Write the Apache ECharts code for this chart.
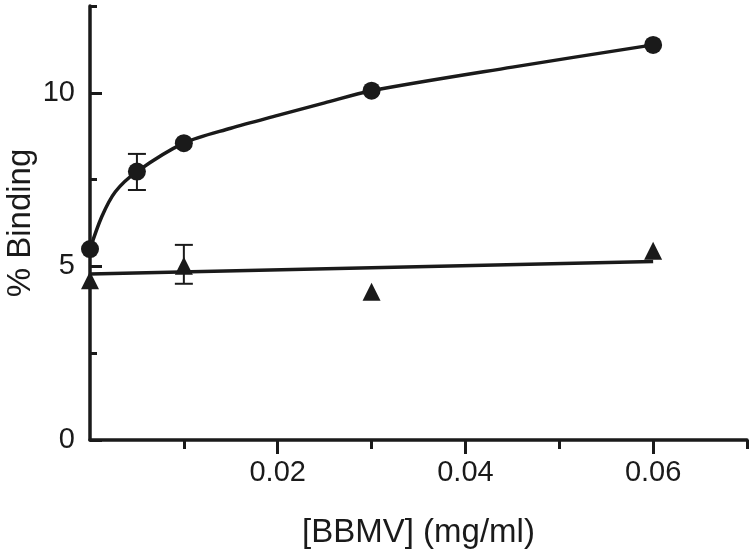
<!DOCTYPE html>
<html>
<head>
<meta charset="utf-8">
<script src="https://cdn.jsdelivr.net/npm/echarts@6/dist/echarts.min.js"></script>
<style>
  html, body { margin: 0; padding: 0; background: #fff; }
  #chart { width: 750px; height: 552px; }
</style>
</head>
<body>
<div id="chart"></div>
<script>
// axis ticks and labels
const xTickValues = [0.01, 0.02, 0.03, 0.04, 0.05, 0.06, 0.07];
const xLabelValues = [0.02, 0.04, 0.06];
const yMajorValues = [0, 5, 10];
const yMinorValues = [2.5, 7.5, 12.5];

// circles (with fitted curve)
const circleX = [0, 0.005, 0.01, 0.03, 0.06];
const circleY = [5.5, 7.73, 8.55, 10.06, 11.38];
const curveX = [0, 0.00125, 0.0027, 0.005, 0.01, 0.015, 0.02, 0.025, 0.03, 0.045, 0.06];
const curveY = [5.5, 6.43, 7.15, 7.73, 8.55, 8.98, 9.35, 9.71, 10.06, 10.74, 11.38];

// triangles (with fitted line)
const triangleX = [0, 0.01, 0.03, 0.06];
const triangleY = [4.6, 5.02, 4.27, 5.45];
const fitX = [0, 0.06];
const fitY = [4.78, 5.14];

// error bars
const errX = [0.005, 0.01];
const errLow = [7.2, 4.5];
const errHigh = [8.24, 5.62];

const ink = '#1a1a1a';
const font = '"Liberation Sans", Arial, sans-serif';

const zip = (xs, ys) => xs.map((x, i) => [x, ys[i]]);

const chart = echarts.init(document.getElementById('chart'));

const xBase = {
	type: 'value',
	min: 0,
	max: 0.07,
	interval: 0.01,
	position: 'bottom',
	splitLine: { show: false }
};
const yBase = {
	type: 'value',
	min: 0,
	max: 12.5,
	interval: 2.5,
	position: 'left',
	splitLine: { show: false }
};

chart.setOption({
	animation: false,
	backgroundColor: '#fff',
	grid: { left: 90, right: 3, top: 6, bottom: 112, containLabel: false, outerBoundsMode: 'none' },
	xAxis: [
		{
			...xBase,
			name: '[BBMV] (mg/ml)',
			nameLocation: 'middle',
			nameGap: 76,
			nameMoveOverlap: false,
			nameTextStyle: { color: ink, fontSize: 33, fontFamily: font },
			axisLine: { lineStyle: { color: ink, width: 3.5 } },
			axisTick: { customValues: xTickValues, length: 9, lineStyle: { color: ink, width: 3 } },
			axisLabel: {
				customValues: xLabelValues,
				margin: 18,
				color: ink,
				fontSize: 29,
				fontFamily: font,
				formatter: (v) => v.toFixed(2)
			}
		},
		{
			...xBase,
			axisLine: { show: false },
			axisTick: { customValues: xLabelValues, length: 14, lineStyle: { color: ink, width: 3 } },
			axisLabel: { show: false }
		}
	],
	yAxis: [
		{
			...yBase,
			name: '% Binding',
			nameLocation: 'middle',
			nameGap: 53,
			nameRotate: 90,
			nameMoveOverlap: false,
			nameTextStyle: { color: ink, fontSize: 33, fontFamily: font },
			axisLine: { lineStyle: { color: ink, width: 3.5 } },
			axisTick: { inside: true, customValues: yMajorValues, length: 12, lineStyle: { color: ink, width: 3 } },
			axisLabel: {
				customValues: yMajorValues,
				margin: 15,
				color: ink,
				fontSize: 29,
				fontFamily: font
			}
		},
		{
			...yBase,
			axisLine: { show: false },
			axisTick: { inside: true, customValues: yMinorValues, length: 7, lineStyle: { color: ink, width: 3 } },
			axisLabel: { show: false }
		}
	],
	series: [
		{
			type: 'custom',
			z: 1,
			data: errX.map((x, i) => [x, errLow[i], errHigh[i]]),
			renderItem: (params, api) => {
				const lo = api.coord([api.value(0), api.value(1)]);
				const hi = api.coord([api.value(0), api.value(2)]);
				const half = 9;
				const style = { stroke: ink, lineWidth: 2 };
				return {
					type: 'group',
					children: [
						{ type: 'line', shape: { x1: hi[0], y1: hi[1], x2: lo[0], y2: lo[1] }, style },
						{ type: 'line', shape: { x1: hi[0] - half, y1: hi[1], x2: hi[0] + half, y2: hi[1] }, style },
						{ type: 'line', shape: { x1: lo[0] - half, y1: lo[1], x2: lo[0] + half, y2: lo[1] }, style }
					]
				};
			}
		},
		{
			type: 'line',
			z: 2,
			data: zip(curveX, curveY),
			smooth: 0.3,
			showSymbol: false,
			lineStyle: { color: ink, width: 3.5 }
		},
		{
			type: 'line',
			z: 2,
			data: zip(fitX, fitY),
			showSymbol: false,
			lineStyle: { color: ink, width: 3.5 }
		},
		{
			type: 'scatter',
			z: 3,
			clip: false,
			symbol: 'circle',
			symbolSize: 18,
			itemStyle: { color: ink, opacity: 1 },
			data: zip(circleX, circleY)
		},
		{
			type: 'scatter',
			z: 3,
			clip: false,
			symbol: 'triangle',
			symbolSize: 18,
			itemStyle: { color: ink, opacity: 1 },
			data: zip(triangleX, triangleY)
		}
	]
});
</script>
</body>
</html>
